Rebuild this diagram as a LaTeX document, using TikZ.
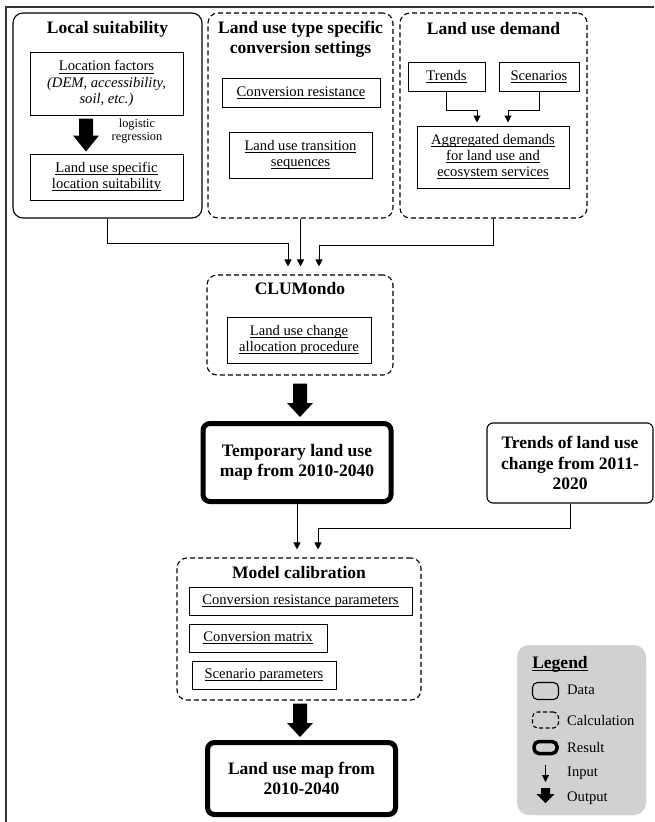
\documentclass[tikz,border=0pt]{standalone}
\usepackage{fontspec}
\setmainfont{Liberation Serif}
\usetikzlibrary{arrows.meta,calc}
\newcommand{\uln}[1]{\setbox0\hbox{#1}\rlap{\rule[-2.4pt]{\wd0}{0.75pt}}\box0}
\newcommand{\regfont}{\fontsize{14.6pt}{16.2pt}\selectfont}
\newcommand{\titfont}{\fontsize{17.5pt}{20.3pt}\selectfont\bfseries}
\newcommand{\smfont}{\fontsize{12.3pt}{12.5pt}\selectfont}
% #1 from, #2 to, #3 half shaft width, #4 half head width, #5 head length
\newcommand{\fatarrow}[5]{%
  \fill let \p1=#1, \p2=#2 in (\x1-#3,\y1) -- (\x1+#3,\y1) -- (\x1+#3,\y2+#5) -- (\x1+#4,\y2+#5) -- (\x1,\y2) -- (\x1-#4,\y2+#5) -- (\x1-#3,\y2+#5) -- cycle;}
\begin{document}
\begin{tikzpicture}[x=1pt,y=-1pt,
  datacont/.style={draw, line width=1.1pt, rounded corners=10pt},
  calccont/.style={draw, line width=1.1pt, dash pattern=on 5pt off 3pt, rounded corners=10pt},
  databox/.style={draw, line width=1.1pt, rounded corners=6pt},
  inbox/.style={draw, line width=1pt, font=\regfont, align=center, inner sep=1pt},
  title/.style={font=\titfont, align=center, inner sep=1pt},
  resbox/.style={draw, line width=5pt, rounded corners=7pt, font=\titfont, align=center},
  arr/.style={draw, line width=1pt, -{Triangle[width=7pt,length=7pt]}},
  lgtext/.style={font=\regfont, anchor=west, inner sep=1pt}]
\useasboundingbox (0,0) rectangle (654,822);
% outer frame
\coordinate (f1) at (6,7);
\coordinate (f2) at (654,7);
\coordinate (f3) at (6,822);
\draw[line width=1.5pt, black!80] (f2) -- (f1) -- (f3);

% Local suitability
\node[datacont, minimum width=189pt, minimum height=205pt] (ls) at (107.5,115.5) {};
\node[title] (lst) at (107.5,29) {Local suitability};
\node[inbox, minimum width=153pt, minimum height=63pt] (lf) at (106.5,83.5) {\uln{Location factors}\\\textit{(DEM, accessibility,}\\\textit{soil, etc.)}};
\node[font=\smfont, align=center, inner sep=1pt] (lr) at (137,131) {logistic\\regression};
\node[inbox, minimum width=153pt, minimum height=46pt] (lus) at (106.5,177) {\uln{Land use specific}\\\uln{location suitability}};
\fatarrow{([xshift=-20.5pt,yshift=-3pt]lf.south)}{([xshift=-20.5pt,yshift=2pt]lus.north)}{7pt}{13pt}{16pt}

% Land use type specific conversion settings
\node[calccont, minimum width=185pt, minimum height=205pt] (lt) at (300.5,115.5) {};
\node[title] (ltt) at (300.5,39.5) {Land use type specific\\conversion settings};
\node[inbox, minimum width=158pt, minimum height=29pt] (cr) at (301,92.5) {\uln{Conversion resistance}};
\node[inbox, minimum width=143pt, minimum height=46pt] (lts) at (300.5,155) {\uln{Land use transition}\\\uln{sequences}};

% Land use demand
\node[calccont, minimum width=187pt, minimum height=205pt] (ld) at (493.5,115.5) {};
\node[title] (ldt) at (493.5,29) {Land use demand};
\node[inbox, minimum width=77pt, minimum height=29pt] (tr) at (446.5,76.5) {\uln{Trends}};
\node[inbox, minimum width=80pt, minimum height=29pt] (sc) at (539,76.5) {\uln{Scenarios}};
\node[inbox, minimum width=152pt, minimum height=62pt] (ag) at (493,157) {\uln{Aggregated demands}\\\uln{for land use and}\\\uln{ecosystem services}};
\draw[arr, shorten >=3pt] (tr.south) -- ++(0,19) -| ([xshift=-16pt]ag.north);
\draw[arr, shorten >=3pt] (sc.south) -- ++(0,19) -| ([xshift=15pt]ag.north);

% CLUMondo
\node[calccont, minimum width=186pt, minimum height=100pt] (cm) at (300,325) {};
\node[title] (cmt) at (300,289) {CLUMondo};
\node[inbox, minimum width=144pt, minimum height=46pt] (luc) at (299,340) {\uln{Land use change}\\\uln{allocation procedure}};
\draw[arr, shorten >=8pt] (ls.south) -- ++(0,25) -| ([xshift=-12pt]cm.north);
\draw[arr, shorten >=8pt] (lt.south) -- (lt.south |- cm.north);
\draw[arr, shorten >=8pt] (ld.south) -- ++(0,27) -| ([xshift=19pt]cm.north);

% Temporary map
\node[resbox, minimum width=188pt, minimum height=78pt] (tmp) at (297,462.5) {Temporary land use\\map from 2010-2040};
\fatarrow{([yshift=-8pt]cm.south)}{([yshift=4pt]tmp.north)}{7pt}{13pt}{14pt}

% Trends of land use change
\node[databox, minimum width=166pt, minimum height=80pt, font=\titfont, align=center] (ttr) at (570,463) {Trends of land use\\change from 2011-\\2020};

% Model calibration
\node[calccont, minimum width=244pt, minimum height=142pt] (mc) at (299,629) {};
\node[title] (mct) at (299,573) {Model calibration};
\node[inbox, minimum width=223pt, minimum height=28pt] (crp) at (300.5,601) {\uln{Conversion resistance parameters}};
\node[inbox, minimum width=138pt, minimum height=28pt] (cmx) at (258,638) {\uln{Conversion matrix}};
\node[inbox, minimum width=144pt, minimum height=28pt] (spp) at (264,675) {\uln{Scenario parameters}};
\draw[arr, shorten >=8pt] (tmp.south) -- (tmp.south |- mc.north);
\draw[arr, shorten >=8pt] (ttr.south) -- ++(0,25) -| ([xshift=19pt]mc.north);

% Final map
\node[resbox, minimum width=188pt, minimum height=72pt] (lum) at (301.5,778.5) {Land use map from\\2010-2040};
\fatarrow{([xshift=1pt,yshift=-3pt]mc.south)}{([yshift=3pt]lum.north)}{7pt}{13pt}{14pt}

% Legend
\node[fill=black!18, rounded corners=12pt, minimum width=129pt, minimum height=170pt] (lg) at (581.5,730) {};
\node[title] (lgt) at (560,664) {\uln{Legend}};
\node[draw, line width=1.1pt, rounded corners=5pt, minimum width=26pt, minimum height=17pt] (kd) at (545.5,691) {};
\node[lgtext] (kdl) at (566,690) {Data};
\node[draw, line width=1.1pt, dash pattern=on 4pt off 2.5pt, rounded corners=5pt, minimum width=26pt, minimum height=16pt] (kc) at (545.5,720) {};
\node[lgtext] (kcl) at (566,720) {Calculation};
\node[draw, line width=3.5pt, rounded corners=5pt, minimum width=23pt, minimum height=12pt] (kr) at (545.5,747.5) {};
\node[lgtext] (krl) at (566,747) {Result};
\coordinate (ki1) at (545.5,765);
\coordinate (ki2) at (545.5,782);
\draw[arr] (ki1) -- (ki2);
\node[lgtext] (kil) at (566,773) {Input};
\coordinate (ko1) at (545.5,788);
\coordinate (ko2) at (545.5,803);
\fatarrow{(ko1)}{(ko2)}{4.5pt}{9pt}{9pt}
\node[lgtext] (kol) at (566,798) {Output};
\end{tikzpicture}
\end{document}
